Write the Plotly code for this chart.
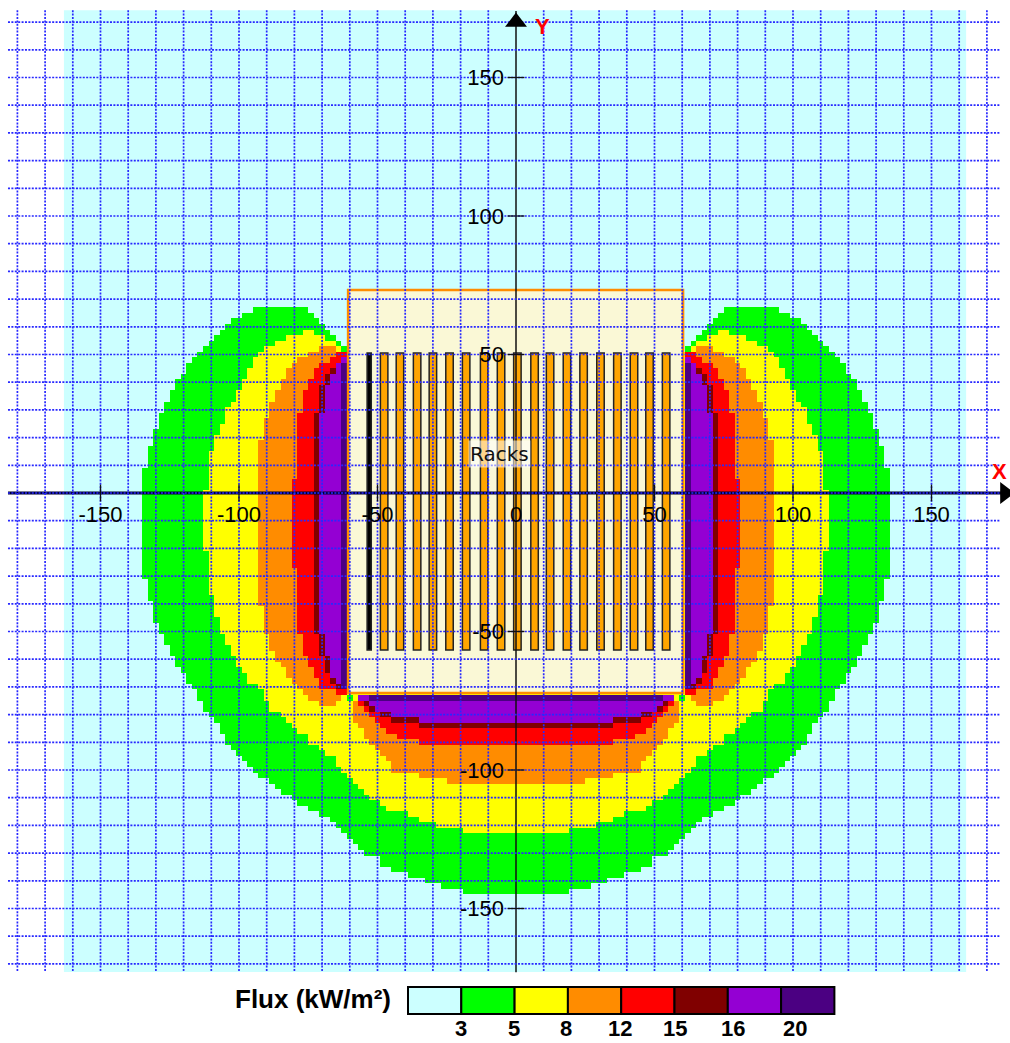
import numpy as np
import plotly.graph_objects as go

# Flux contour rows on the left half: (row_from_y, row_to_y, x_from, x_to), mirrored about x=0
green_spans = [(66,66,-95,-75),(64,64,-99,-73),(62,62,-103,-71),(60,60,-105,-69),(58,58,-107,-67),(56,56,-109,-65),(54,54,-111,-63),(52,52,-113,-61),
 (50,50,-115,0),(48,48,-117,0),(46,44,-119,0),(42,42,-121,0),(40,38,-123,0),(36,34,-125,0),(32,30,-127,0),(28,24,-129,0),(22,18,-131,0),(16,10,-133,0),(8,-30,-135,0),
 (-32,-38,-133,0),(-40,-46,-131,0),(-48,-50,-129,0),(-52,-54,-127,0),(-56,-58,-125,0),(-60,-62,-123,0),(-64,-64,-121,0),(-66,-68,-119,0),(-70,-70,-117,0),(-72,-74,-115,0),
 (-76,-78,-113,0),(-80,-80,-111,0),(-82,-82,-109,0),(-84,-86,-107,0),(-88,-90,-105,0),(-92,-92,-103,0),(-94,-94,-101,0),(-96,-96,-99,0),(-98,-98,-97,0),(-100,-100,-95,0),
 (-102,-102,-93,0),(-104,-104,-89,0),(-106,-106,-87,0),(-108,-108,-85,0),(-110,-110,-81,0),(-112,-112,-79,0),(-114,-114,-75,0),(-116,-116,-71,0),(-118,-118,-67,0),
 (-120,-120,-65,0),(-122,-122,-63,0),(-124,-124,-61,0),(-126,-126,-59,0),(-128,-128,-57,0),(-130,-130,-55,0),(-132,-134,-49,0),(-136,-136,-45,0),(-138,-138,-39,0),
 (-140,-140,-33,0),(-142,-142,-27,0),(-144,-144,-19,0)]
yellow_spans = [(58,58,-77,-73),(56,56,-83,-69),(54,54,-87,-65),(52,52,-91,-63),(50,50,-93,0),(48,46,-95,0),(44,42,-97,0),(40,38,-99,0),(36,34,-101,0),(32,32,-103,0),
 (30,26,-105,0),(24,22,-107,0),(20,16,-109,0),(14,2,-111,0),(0,-20,-113,0),(-22,-36,-111,0),(-38,-44,-109,0),(-46,-50,-107,0),(-52,-54,-105,0),(-56,-58,-103,0),
 (-60,-62,-101,0),(-64,-64,-99,0),(-66,-68,-97,0),(-70,-70,-93,0),(-72,-74,-91,0),(-76,-78,-89,0),(-80,-80,-85,0),(-82,-82,-83,0),(-84,-84,-81,0),(-86,-86,-79,0),
 (-88,-90,-75,0),(-92,-92,-71,0),(-94,-94,-69,0),(-96,-98,-65,0),(-100,-100,-63,0),(-102,-102,-61,0),(-104,-104,-59,0),(-106,-106,-57,0),(-108,-108,-55,0),
 (-110,-110,-53,0),(-112,-112,-49,0),(-114,-114,-47,0),(-116,-116,-39,0),(-118,-118,-35,0),(-120,-120,-29,0),(-122,-122,-19,0)]
orange_spans = [(52,52,-71,-65),(50,50,-75,-61),(48,48,-79,-61),(46,46,-81,-61),(44,42,-83,-61),(40,38,-85,-61),(36,34,-87,-61),(32,28,-89,-61),(26,20,-91,-61),
 (18,-40,-93,-61),(-42,-50,-91,-61),(-52,-56,-89,-61),(-58,-60,-87,-61),(-62,-62,-85,-61),(-64,-66,-83,-61),(-68,-68,-81,-61),(-70,-70,-79,-61),(-72,-72,-77,-61),
 (-74,-74,-75,-63),(-76,-76,-71,-65),
 (-76,-82,-59,0),(-84,-84,-57,0),(-86,-88,-55,0),(-90,-90,-53,0),(-92,-92,-51,0),(-94,-94,-49,0),(-96,-96,-47,0),(-98,-100,-45,0),(-102,-102,-35,0),(-104,-104,-25,0)]
red_spans = [(50,50,-65,-61),(48,48,-67,-61),(46,46,-71,-61),(44,42,-73,-61),(40,38,-75,-61),(36,30,-77,-61),(28,6,-79,-61),(4,-26,-81,-61),(-28,-50,-79,-61),(-52,-58,-77,-61),
 (-60,-62,-75,-61),(-64,-66,-73,-61),(-68,-70,-71,-61),(-72,-72,-65,-61),
 (-76,-76,-57,0),(-78,-78,-55,0),(-80,-80,-53,0),(-82,-82,-51,0),(-84,-84,-49,0),(-86,-86,-47,0),(-88,-88,-43,0),(-90,-90,-35,0)]
maroon_spans = [(44,44,-67,-61),(42,40,-69,-61),(38,30,-71,-61),(28,-50,-73,-61),(-52,-58,-71,-61),(-60,-64,-69,-61),(-68,-68,-67,-61),(-70,-70,-65,-63),
 (-76,-76,-55,0),(-78,-78,-53,0),(-80,-80,-49,0),(-82,-82,-45,0),(-84,-84,-35,0)]
purple_spans = [(48,48,-63,-61),(46,44,-65,-61),(42,40,-67,-61),(38,30,-69,-61),(28,-50,-71,-61),(-52,-58,-69,-61),(-60,-66,-67,-61),(-68,-68,-65,-61),
 (-74,-74,-57,0),(-76,-76,-53,0),(-78,-78,-51,0),(-80,-80,-45,0),(-82,-82,-35,0)]
indigo_spans = [(46,-70,-63,-61),(-74,-74,-53,0)]
green_spot = [(-74,-74,-61,-59)]

rack_x = [-53,-47.6,-41.9,-35.7,-30,-24,-18,-11.5,-5.4,0.5,6.7,12.3,18.4,24.4,30.5,36.6,42.6,48.2,54.2]
rack_width = [1.5]+[2.7]*18
rack_color = ["#000000"]+["#FFA500"]*18
rack_bottom, rack_top = -56.7, 50.5
site_x0, site_x1, site_y0, site_y1 = -60.6, 60.3, -72.2, 73.3

grid_x = [-180,-170,-160,-150,-140,-130,-120,-110,-100,-90,-80,-70,-60,-50,-40,-30,-20,-10,10,20,30,40,50,60,70,80,90,100,110,120,130,140,150,160,170]
grid_y = [170,160,150,140,130,120,110,100,90,80,70,60,50,40,30,20,10,0,-10,-20,-30,-40,-50,-60,-70,-80,-90,-100,-110,-120,-130,-140,-150,-160,-170]
x_ticks = [-150,-100,-50,0,50,100,150]
y_ticks = [150,100,50,-50,-100,-150]

flux_colors = ["#CCFFFF","#00FF00","#FFFF00","#FF8C00","#FF0000","#800000","#9400D3","#4B0082"]
flux_labels = ["3","5","8","12","15","16","20"]
flux_label_px = [461,514,566,620,675,733,795]

W, H, PX, X0, Y0 = 1010, 1043, 2.77, 516, 493

# cells
cols = np.arange(-136, 138, 2)
rows = np.arange(68, -148, -2)
z = np.full((len(rows), len(cols)), np.nan)
levels = [green_spans, yellow_spans, orange_spans, red_spans, maroon_spans, purple_spans, indigo_spans]
for lev, spans in list(enumerate(levels, 1)) + [(1, green_spot)]:
    for yhi, ylo, xa, xb in spans:
        rmask = (rows <= yhi) & (rows >= ylo)
        cmask = (-np.abs(cols) > xa) & (-np.abs(cols) <= xb)
        z[np.ix_(rmask, cmask)] = lev

cs = []
for i in range(1, 8):
    a, b = (i-1)/7, i/7
    cs += [[a, flux_colors[i]], [b, flux_colors[i]]]

fig = go.Figure()
fig.add_trace(go.Heatmap(x=cols, y=rows, z=z, zmin=0.5, zmax=7.5, colorscale=cs, showscale=False, hoverinfo="skip"))
fig.add_trace(go.Bar(x=[(site_x0+site_x1)/2], y=[site_y1-site_y0], base=[site_y0], width=[site_x1-site_x0],
                     marker=dict(color="#FAF8D6", line=dict(color="#FF8C00", width=2.6)), hoverinfo="skip", showlegend=False))
fig.add_trace(go.Bar(x=rack_x, y=[rack_top-rack_bottom]*len(rack_x), base=[rack_bottom]*len(rack_x), width=rack_width,
                     marker=dict(color=rack_color, line=dict(color="#222222", width=1.5)), hoverinfo="skip", showlegend=False))

# grid lines
gx, gy = [], []
for v in grid_x:
    gx += [v, v, None]; gy += [174.3, -172.9, None]
for v in grid_y:
    gx += [-183.4, 174.7, None]; gy += [v, v, None]
# axes
fig.add_trace(go.Scatter(x=[-183.4,177],y=[0,0],mode="lines",line=dict(color="#000033",width=3),hoverinfo="skip",showlegend=False))
fig.add_trace(go.Scatter(x=[0,0],y=[174,-173],mode="lines",line=dict(color="#111111",width=1.5),hoverinfo="skip",showlegend=False))
fig.add_trace(go.Scatter(x=gx,y=gy,mode="lines",line=dict(color="#2828FF",width=1.7,dash="2px,1.4px"),hoverinfo="skip",showlegend=False))
fig.add_trace(go.Scatter(x=[v for v in x_ticks if v],y=[0]*6,mode="markers",marker=dict(symbol="line-ns",size=12,line=dict(color="#111",width=1.3)),hoverinfo="skip",showlegend=False))
fig.add_trace(go.Scatter(x=[0]*6,y=y_ticks,mode="markers",marker=dict(symbol="line-ew",size=12,line=dict(color="#111",width=1.3)),hoverinfo="skip",showlegend=False))
fig.add_trace(go.Scatter(x=[176.5],y=[0],mode="markers",marker=dict(symbol="triangle-right",size=19,color="black"),hoverinfo="skip",showlegend=False))
fig.add_trace(go.Scatter(x=[0],y=[170],mode="markers",marker=dict(symbol="triangle-up",size=19,color="black"),hoverinfo="skip",showlegend=False))

shapes = [dict(type="rect",layer="below",xref="x",yref="y",x0=-163.2,x1=162.5,y0=-172.9,y1=174.3,fillcolor=flux_colors[0],line_width=0)]
sw = 53.3
for i, c in enumerate(flux_colors):
    shapes.append(dict(type="rect",xref="paper",yref="paper",x0=(408+i*sw)/W,x1=(408+(i+1)*sw)/W,y0=1-1014/H,y1=1-987/H,fillcolor=c,line=dict(color="black",width=2)))

center = dict(showarrow=False, xanchor="center", yanchor="middle")
ann = [
 dict(x=-5.8,y=14,xref="x",yref="y",text="Racks",font=dict(family="DejaVu Sans",size=20,color="#111"),bgcolor="rgba(255,255,255,0.55)",**center),
 dict(x=9.4,y=168.5,xref="x",yref="y",text="<b>Y</b>",font=dict(family="Liberation Sans",size=22,color="#FF0000"),**center),
 dict(x=174.6,y=7.6,xref="x",yref="y",text="<b>X</b>",font=dict(family="Liberation Sans",size=22,color="#FF0000"),**center),
 dict(x=313/W,y=1-999/H,xref="paper",yref="paper",text="<b>Flux (kW/m²)</b>",font=dict(family="Liberation Sans",size=26,color="black"),**center),
]
for lab, px in zip(flux_labels, flux_label_px):
    ann.append(dict(x=px/W,y=1-1028.5/H,xref="paper",yref="paper",text=f"<b>{lab}</b>",borderpad=0,font=dict(family="Liberation Sans",size=22,color="black"),**center))

tickfont = dict(family="Liberation Sans",size=22,color="#000")
fig.update_layout(
    width=W,height=H,margin=dict(l=0,r=0,t=0,b=0),paper_bgcolor="white",plot_bgcolor="white",
    barmode="overlay",showlegend=False,shapes=shapes,annotations=ann,
    xaxis=dict(range=[(0-X0)/PX,(W-X0)/PX],tickvals=x_ticks,ticktext=[str(v) for v in x_ticks],anchor="free",position=1-Y0/H,side="bottom",
               showgrid=False,zeroline=False,showline=False,ticks="",tickfont=tickfont,ticklabelstandoff=6),
    yaxis=dict(range=[(Y0-H)/PX,Y0/PX],tickvals=y_ticks,ticktext=[str(v) for v in y_ticks],anchor="free",position=X0/W,side="left",
               showgrid=False,zeroline=False,showline=False,ticks="",tickfont=tickfont,ticklabelstandoff=12),
)
fig.write_html("out.html", config=dict(displayModeBar=False), post_script="document.body.style.margin='0';document.documentElement.style.overflow='hidden';")
